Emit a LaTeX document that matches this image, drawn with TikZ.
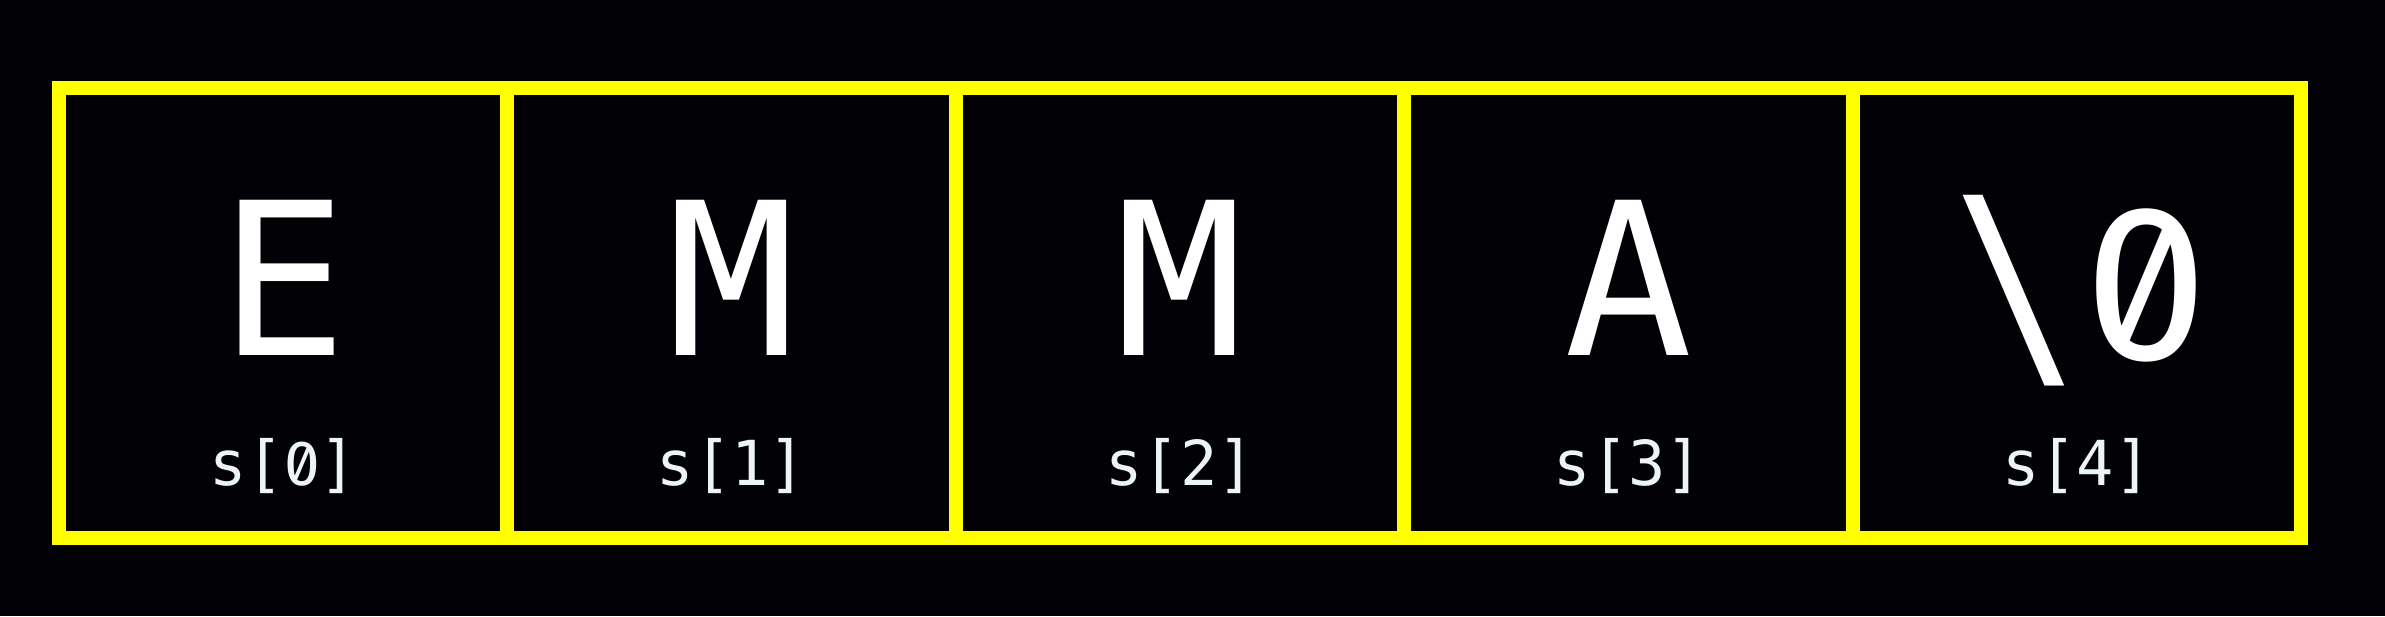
\documentclass[tikz,border=0pt]{standalone}
\usepackage{fontspec}
\usepackage{graphicx}
\newfontfamily\monof{DejaVu Sans Mono}
\newfontfamily\zerof{Fira Sans}[Numbers=SlashedZero]
\definecolor{yel}{RGB}{255,255,0}
\definecolor{bg}{RGB}{2,2,6}
\definecolor{lbl}{RGB}{236,244,246}
\begin{document}
\begin{tikzpicture}[x=1pt,y=-1pt,
  cell/.style={draw=yel, line width=14pt, minimum width=448.4pt, minimum height=449.5pt, inner sep=0pt},
  big/.style={text=white, font=\monof\fontsize{213}{213}\selectfont, anchor=base, inner sep=0pt},
  idx/.style={text=lbl, font=\monof\fontsize{62}{62}\selectfont, anchor=base, inner sep=0pt}]
\useasboundingbox (0,0) rectangle (2385,616);
\fill[bg] (0,0) rectangle (2385,616);
\foreach \i/\ch in {0/E,1/M,2/M,3/A} {
  \node[cell] (c\i) at ({283.2+448.4*\i},312.75) {};
  \node[big] (l\i) at ({283.2+448.4*\i},355) {\ch};
}
\node[cell] (c4) at ({283.2+448.4*4},312.75) {};
\node[big, anchor=center] (l4a) at (2017,291) {\scalebox{1}[1.09]{\textbackslash}};
\node[big] (l4b) at (2146,359) {\zerof\fontsize{222}{222}\selectfont 0};
\node[idx] (s0) at (283.2,485) {s[{\zerof\fontsize{64}{64}\selectfont 0}]};
\foreach \i in {1,2,3,4} {
  \node[idx] (s\i) at ({283.2+448.4*\i},485) {s[\i]};
}
\end{tikzpicture}
\end{document}
